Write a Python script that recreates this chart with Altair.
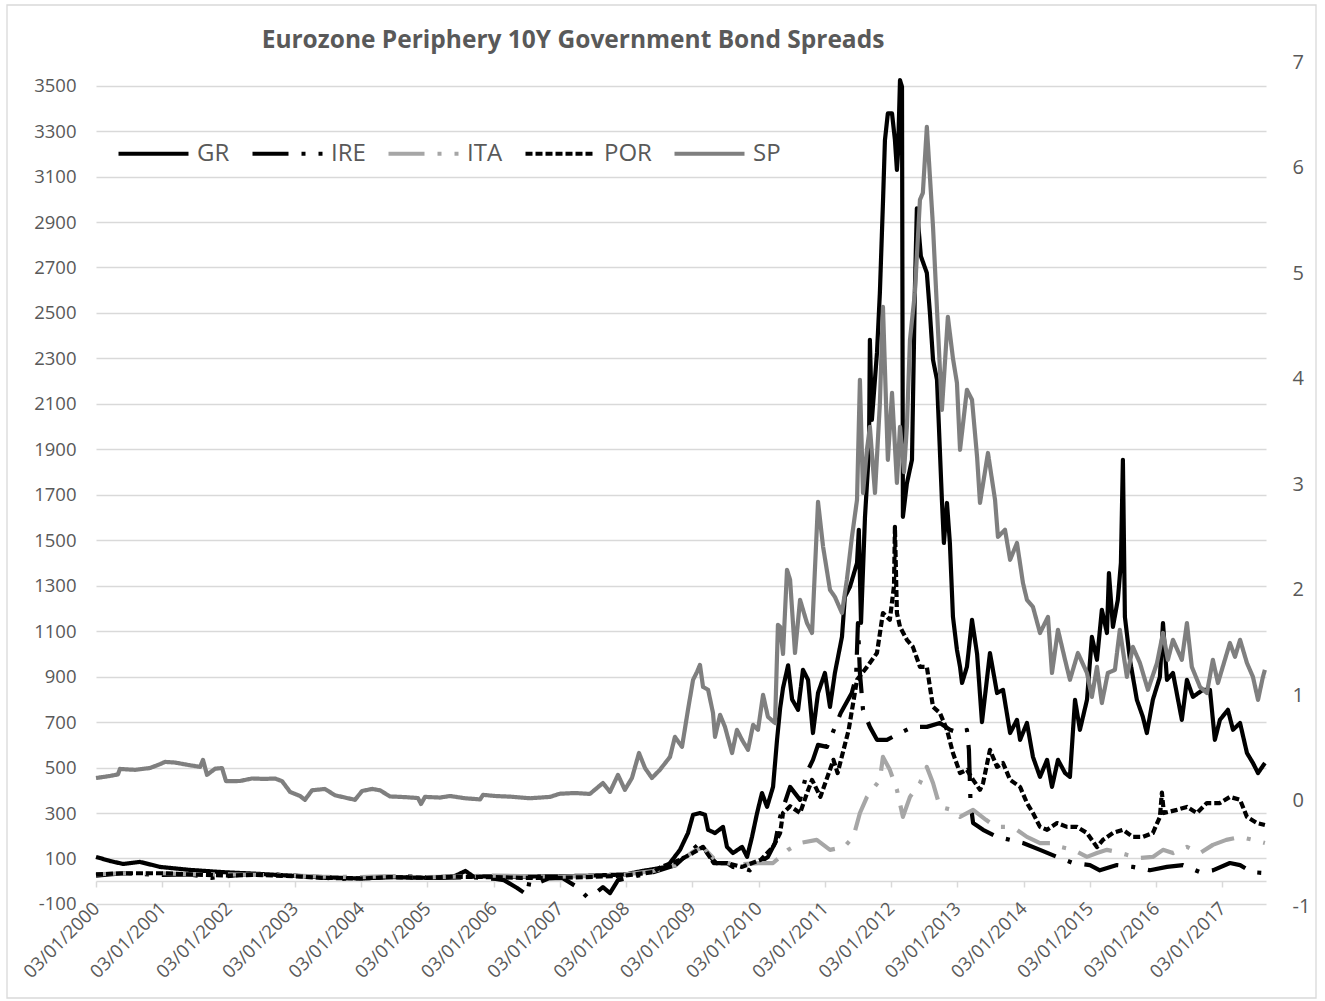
import altair as alt
import pandas as pd

FONT = "Open Sans"
TEXT = "#595959"
GRID = "#D9D9D9"

SERIES = ["GR", "IRE", "ITA", "POR", "SP"]
COLORS = ["#000000", "#000000", "#A6A6A6", "#000000", "#7F7F7F"]
DASHES = [[1, 0], [36, 13, 4, 13], [36, 13, 4, 13], [7, 3], [1, 0]]
WIDTHS = [4.2, 4.2, 4.2, 2.8, 4.2]

LEFT_TICKS = list(range(-100, 3501, 200))
RIGHT_TICKS = list(range(-1, 8))
YEAR_TICKS = list(range(2000, 2018))

GR_DATES = ["2000-01-03","2000-03-20","2000-06-01","2000-09-01","2000-12-20","2001-06-01","2001-12-01","2002-06-01","2002-12-01","2003-06-01","2004-01-01","2004-06-01","2005-01-01","2005-06-01","2005-08-01","2005-09-15","2006-01-01","2006-06-01","2007-01-01","2007-06-01","2008-01-01","2008-04-01","2008-08-16","2008-10-27","2008-12-10","2009-01-07","2009-02-14","2009-03-14","2009-03-31","2009-05-08","2009-06-21","2009-07-13","2009-08-15","2009-10-04","2009-11-01","2009-11-28","2009-12-26","2010-01-22","2010-02-19","2010-03-24","2010-04-15","2010-05-02","2010-05-18","2010-06-15","2010-07-07","2010-08-09","2010-09-05","2010-10-03","2010-10-30","2010-11-27","2011-01-04","2011-02-01","2011-02-28","2011-04-08","2011-04-24","2011-05-22","2011-06-30","2011-07-10","2011-07-22","2011-08-13","2011-09-04","2011-09-09","2011-09-20","2011-10-18","2011-11-03","2011-11-20","2011-12-01","2011-12-17","2012-01-09","2012-01-25","2012-02-05","2012-02-11","2012-02-22","2012-03-04","2012-03-09","2012-03-31","2012-04-28","2012-05-14","2012-05-25","2012-06-16","2012-07-19","2012-08-05","2012-08-22","2012-09-13","2012-10-10","2012-10-21","2012-11-07","2012-11-23","2012-12-10","2013-01-01","2013-01-18","2013-01-29","2013-02-25","2013-03-25","2013-04-22","2013-05-19","2013-07-02","2013-08-10","2013-09-12","2013-10-21","2013-11-28","2013-12-15","2014-01-22","2014-02-24","2014-04-04","2014-05-13","2014-06-09","2014-07-12","2014-08-20","2014-09-16","2014-10-14","2014-11-10","2014-12-19","2015-01-15","2015-02-12","2015-03-11","2015-04-08","2015-04-19","2015-05-11","2015-06-07","2015-06-24","2015-07-05","2015-07-16","2015-08-13","2015-09-20","2015-10-23","2015-11-14","2015-12-17","2016-01-25","2016-02-11","2016-03-04","2016-04-06","2016-05-25","2016-06-22","2016-07-25","2016-09-18","2016-10-27","2016-11-23","2016-12-21","2017-02-03","2017-03-03","2017-04-11","2017-05-19","2017-06-21","2017-07-19","2017-08-26"]
GR_VALUES = [107,89,76,85,63,50,40,33,25,18,12,18,15,22,45,20,22,20,22,24,30,45,63,138,212,292,300,292,226,212,239,151,124,151,107,195,300,388,327,415,622,760,850,950,800,754,930,886,652,828,916,767,916,1075,1251,1295,1400,1546,1136,1603,1898,2382,2030,2324,2588,2984,3261,3378,3378,3261,3129,3202,3524,3495,1603,1750,1854,2600,2960,2750,2676,2500,2294,2206,1678,1488,1664,1488,1163,1018,943,872,943,1150,1000,700,1004,828,842,652,710,622,696,547,459,534,415,534,476,459,798,666,798,1075,974,1194,1092,1356,1119,1238,1400,1854,1163,974,798,723,652,798,899,1136,886,916,710,886,811,842,842,622,710,754,666,696,564,520,476,520]

IRE_DATES = ["2000-01-03","2000-06-01","2001-01-01","2001-06-01","2001-10-01","2002-03-01","2002-09-01","2003-03-01","2003-09-01","2004-03-01","2004-09-01","2005-03-01","2005-09-01","2006-01-15","2006-03-01","2006-05-13","2006-07-07","2006-07-20","2006-09-16","2006-11-01","2007-01-15","2007-04-08","2007-04-25","2007-06-02","2007-07-27","2007-08-29","2007-10-07","2007-11-20","2008-01-15","2008-06-01","2008-10-01","2009-01-07","2009-02-14","2009-03-31","2009-04-27","2009-05-15","2009-07-13","2009-08-15","2009-10-04","2009-11-15","2010-01-02","2010-02-24","2010-04-04","2010-05-02","2010-06-26","2010-08-20","2010-09-27","2010-10-30","2010-11-27","2011-01-15","2011-04-01","2011-06-01","2011-06-25","2011-07-05","2011-07-16","2011-08-02","2011-09-09","2011-10-18","2011-12-12","2012-02-22","2012-05-03","2012-07-19","2012-09-29","2012-11-23","2013-01-18","2013-02-25","2013-03-08","2013-03-17","2013-03-31","2013-05-25","2013-08-10","2013-10-21","2013-12-31","2014-04-04","2014-07-07","2014-10-03","2015-01-04","2015-02-28","2015-06-02","2015-08-29","2015-12-01","2016-03-04","2016-05-31","2016-09-02","2016-11-12","2017-02-14","2017-04-11","2017-06-16","2017-08-26"]
IRE_VALUES = [25,35,28,30,15,28,30,22,10,15,22,15,18,10,5,-30,-60,0,-3,12,15,-25,-38,-69,-47,-26,-52,5,15,40,70,140,168,120,94,80,80,63,58,48,80,107,168,283,415,358,480,534,600,591,740,828,900,1136,916,754,679,622,622,652,679,679,696,666,652,666,578,344,256,226,195,182,168,138,107,80,71,48,71,63,48,63,71,40,48,80,71,40,36]

ITA_DATES = ["2000-01-03","2000-06-01","2001-01-01","2001-06-01","2002-01-01","2002-06-01","2003-01-01","2003-06-01","2004-01-01","2004-06-01","2005-01-01","2005-06-01","2006-01-01","2006-06-01","2007-01-01","2007-06-01","2008-01-01","2008-06-01","2008-10-01","2009-01-07","2009-03-03","2009-05-01","2009-07-01","2009-10-01","2010-01-01","2010-03-24","2010-06-15","2010-08-20","2010-11-20","2011-02-01","2011-04-20","2011-06-10","2011-07-16","2011-08-24","2011-11-03","2011-11-20","2011-12-28","2012-02-05","2012-03-09","2012-04-17","2012-06-11","2012-07-19","2012-08-22","2012-09-29","2012-12-04","2013-01-18","2013-03-31","2013-06-10","2013-08-05","2013-10-01","2013-11-28","2014-01-22","2014-04-04","2014-06-01","2014-07-25","2014-10-05","2014-12-19","2015-02-12","2015-04-08","2015-06-01","2015-07-27","2015-10-07","2015-12-17","2016-02-11","2016-04-06","2016-06-22","2016-09-02","2016-11-12","2017-01-25","2017-04-11","2017-06-21","2017-08-26"]
ITA_VALUES = [30,35,35,30,30,28,25,20,18,22,18,20,25,22,20,22,30,45,70,130,150,100,80,75,80,80,138,168,182,138,151,195,300,371,446,547,490,402,283,371,432,503,432,327,314,283,314,270,239,239,226,195,168,168,151,138,107,124,138,129,116,102,107,138,124,151,124,160,182,195,182,168]

POR_DATES = ["2000-01-03","2000-06-01","2001-01-01","2001-06-01","2002-01-01","2002-06-01","2003-01-01","2003-06-01","2004-01-01","2004-06-01","2005-01-01","2005-06-01","2006-01-01","2006-06-01","2007-01-01","2007-06-01","2008-01-01","2008-06-01","2008-07-15","2008-10-27","2009-01-05","2009-03-03","2009-05-01","2009-07-13","2009-10-04","2010-01-15","2010-03-24","2010-05-02","2010-05-18","2010-06-26","2010-08-20","2010-10-03","2010-10-25","2010-12-10","2011-02-20","2011-03-15","2011-05-15","2011-06-30","2011-08-24","2011-10-18","2011-11-20","2011-12-28","2012-01-20","2012-01-25","2012-02-05","2012-02-22","2012-03-31","2012-05-03","2012-06-11","2012-07-19","2012-08-22","2012-09-29","2012-11-07","2012-12-10","2013-01-18","2013-02-25","2013-03-31","2013-05-08","2013-05-25","2013-07-02","2013-08-10","2013-09-12","2013-10-21","2013-12-15","2014-01-22","2014-02-24","2014-04-04","2014-05-13","2014-07-07","2014-08-31","2014-10-25","2014-12-19","2015-02-12","2015-03-17","2015-05-11","2015-07-05","2015-08-29","2015-10-23","2015-12-17","2016-01-25","2016-02-05","2016-02-16","2016-04-28","2016-06-22","2016-08-16","2016-10-10","2016-12-21","2017-02-14","2017-04-11","2017-05-19","2017-07-13","2017-08-26"]
POR_VALUES = [30,35,35,30,25,28,22,15,12,18,15,20,18,15,15,18,25,40,63,94,124,151,80,80,63,94,151,212,300,330,300,400,446,371,534,476,666,886,943,1004,1180,1150,1300,1559,1180,1119,1062,1031,943,943,767,740,666,564,476,490,446,402,432,578,503,520,446,415,344,300,239,226,256,239,239,212,150,182,212,226,195,195,212,283,390,300,314,327,300,344,344,371,358,283,256,247]

SP_DATES = ["2000-01-03","2000-03-20","2000-05-03","2000-05-14","2000-08-05","2000-10-27","2000-12-21","2001-01-18","2001-03-14","2001-06-05","2001-07-30","2001-08-15","2001-09-06","2001-10-21","2001-11-28","2001-12-20","2002-03-07","2002-05-13","2002-07-23","2002-09-16","2002-10-25","2002-12-08","2003-02-01","2003-02-28","2003-04-08","2003-06-18","2003-08-13","2003-10-07","2003-12-01","2004-01-09","2004-03-04","2004-04-17","2004-06-11","2004-09-02","2004-11-12","2004-11-29","2004-12-21","2005-03-14","2005-05-08","2005-07-30","2005-10-21","2005-11-06","2006-01-11","2006-04-04","2006-07-23","2006-11-10","2007-01-04","2007-03-28","2007-06-18","2007-07-27","2007-08-29","2007-10-07","2007-11-20","2007-12-28","2008-02-05","2008-03-15","2008-04-17","2008-05-25","2008-07-08","2008-09-02","2008-09-29","2008-11-07","2008-12-10","2009-01-07","2009-01-29","2009-02-14","2009-03-03","2009-03-31","2009-04-27","2009-05-08","2009-06-05","2009-07-02","2009-08-10","2009-09-06","2009-10-04","2009-11-06","2009-12-04","2009-12-31","2010-01-28","2010-02-24","2010-04-04","2010-04-20","2010-05-02","2010-05-18","2010-06-09","2010-06-26","2010-07-23","2010-08-20","2010-09-27","2010-10-25","2010-11-27","2010-12-25","2011-02-01","2011-02-28","2011-04-08","2011-05-05","2011-06-02","2011-06-30","2011-07-16","2011-08-02","2011-08-24","2011-09-09","2011-10-07","2011-11-03","2011-11-20","2011-12-17","2012-01-09","2012-02-05","2012-02-22","2012-03-15","2012-03-31","2012-04-17","2012-05-14","2012-06-11","2012-06-27","2012-07-19","2012-08-05","2012-08-22","2012-09-13","2012-10-10","2012-11-12","2012-12-10","2013-01-01","2013-01-18","2013-02-25","2013-03-25","2013-04-22","2013-05-08","2013-06-21","2013-07-30","2013-08-15","2013-09-23","2013-10-21","2013-11-28","2013-12-31","2014-01-22","2014-02-24","2014-04-04","2014-05-18","2014-06-09","2014-07-12","2014-08-20","2014-09-16","2014-10-30","2014-12-19","2015-01-15","2015-02-12","2015-03-11","2015-04-13","2015-05-22","2015-06-18","2015-07-27","2015-08-29","2015-10-07","2015-11-20","2016-01-09","2016-02-11","2016-03-09","2016-04-06","2016-05-25","2016-06-22","2016-07-19","2016-09-02","2016-10-10","2016-11-12","2016-12-10","2017-02-14","2017-03-14","2017-04-11","2017-05-19","2017-06-21","2017-07-19","2017-08-15","2017-08-26"]
SP_VALUES = [454,463,470,494,490,498,515,525,522,510,503,534,468,495,498,440,441,452,450,452,440,393,375,358,400,406,378,368,358,397,406,400,373,370,366,340,371,368,375,365,360,380,375,372,365,371,385,388,384,410,432,393,468,402,454,564,498,454,490,547,635,591,754,886,921,952,855,842,740,635,732,679,564,666,622,578,688,666,820,723,696,1128,1119,1000,1370,1326,1004,1238,1136,1092,1669,1471,1282,1251,1180,1326,1515,1678,2206,1708,1900,1999,1708,2100,2527,1854,2148,1752,1999,1800,2000,2382,2588,2998,3028,3319,3099,2879,2514,2074,2483,2300,2192,1898,2162,2118,1867,1664,1884,1678,1515,1546,1414,1488,1312,1238,1207,1092,1163,916,1106,974,886,1004,916,811,943,784,916,930,1106,899,1031,960,842,960,1092,974,1062,974,1136,943,855,828,974,872,1048,987,1062,960,899,798,899,930]

rows = []
for name, dates, vals in [("GR", GR_DATES, GR_VALUES), ("IRE", IRE_DATES, IRE_VALUES),
                          ("ITA", ITA_DATES, ITA_VALUES), ("POR", POR_DATES, POR_VALUES),
                          ("SP", SP_DATES, SP_VALUES)]:
    for d, v in zip(dates, vals):
        rows.append({"date": d, "value": v, "series": name})
df = pd.DataFrame(rows)

x_enc = alt.X(
    "date:T",
    scale=alt.Scale(type="utc",
                    domain=[alt.DateTime(year=2000, month=1, date=3, utc=True),
                            alt.DateTime(year=2017, month=9, date=1, utc=True)]),
    axis=alt.Axis(
        values=[alt.DateTime(year=y, month=1, date=3, utc=True) for y in YEAR_TICKS],
        format="%d/%m/%Y", labelAngle=-45, labelAlign="right", labelBaseline="middle",
        offset=-25, tickSize=6, labelPadding=18, domainColor=GRID, tickColor=GRID,
        domainWidth=1.5, tickWidth=1.5, grid=False, title=None,
        labelFontSize=18.5, labelColor=TEXT, labelFont=FONT, labelOverlap=False,
    ),
)

lines = alt.Chart(df).mark_line(strokeCap="butt", strokeJoin="round").encode(
    x=x_enc,
    y=alt.Y("value:Q",
            scale=alt.Scale(domain=[-109, 3604], nice=False, zero=False),
            axis=alt.Axis(values=LEFT_TICKS, orient="left", domain=False, ticks=False,
                          grid=True, gridColor=GRID, gridWidth=1.5, labelPadding=20,
                          labelExpr="'' + datum.value",
                          labelFontSize=18.5, labelColor=TEXT, labelFont=FONT, title=None)),
    color=alt.Color("series:N", scale=alt.Scale(domain=SERIES, range=COLORS),
                    legend=alt.Legend(title=None)),
    strokeDash=alt.StrokeDash("series:N", scale=alt.Scale(domain=SERIES, range=DASHES),
                              legend=alt.Legend(title=None)),
    strokeWidth=alt.StrokeWidth("series:N", scale=alt.Scale(domain=SERIES, range=WIDTHS),
                                legend=None),
)

right_axis = alt.Chart(pd.DataFrame({"v": RIGHT_TICKS})).mark_rule(opacity=0).encode(
    y=alt.Y("v:Q", scale=alt.Scale(domain=[-1, 7], nice=False, zero=False),
            axis=alt.Axis(orient="right", values=RIGHT_TICKS, domain=False, ticks=False,
                          grid=False, labelPadding=26, title=None, labelAlign="left",
                          labelExpr="'' + datum.value",
                          labelFontSize=20, labelColor=TEXT, labelFont=FONT))
)

border = alt.Chart(alt.Data(values=[{"k": 1}])).mark_rect(
    fill="white", fillOpacity=0, stroke=GRID, strokeWidth=1.3
).encode(x=alt.value(-89), x2=alt.value(1220), y=alt.value(-57), y2=alt.value(936))

chart = alt.layer(lines, right_axis, border).resolve_scale(
    y="independent"
).properties(
    width=1170, height=844,
    background="white",
    title=alt.Title("Eurozone Periphery 10Y Government Bond Spreads", font=FONT,
                    fontSize=24.5, fontWeight="bold", color=TEXT, anchor="middle",
                    frame="group", dx=-108, offset=14, dy=63),
    autosize=alt.AutoSizeParams(type="none"),
    padding={"left": 96, "top": 62, "right": 59, "bottom": 95},
).configure_view(stroke=None).configure_legend(
    orient="none", legendX=20, legendY=54, direction="horizontal",
    symbolType="stroke", symbolSize=4900, symbolStrokeWidth=4.5,
    labelFontSize=24, labelColor=TEXT, labelFont=FONT, columnPadding=14,
    labelOffset=6, padding=0,
)

chart.save("out.html", embed_options={"renderer": "svg", "actions": False})
